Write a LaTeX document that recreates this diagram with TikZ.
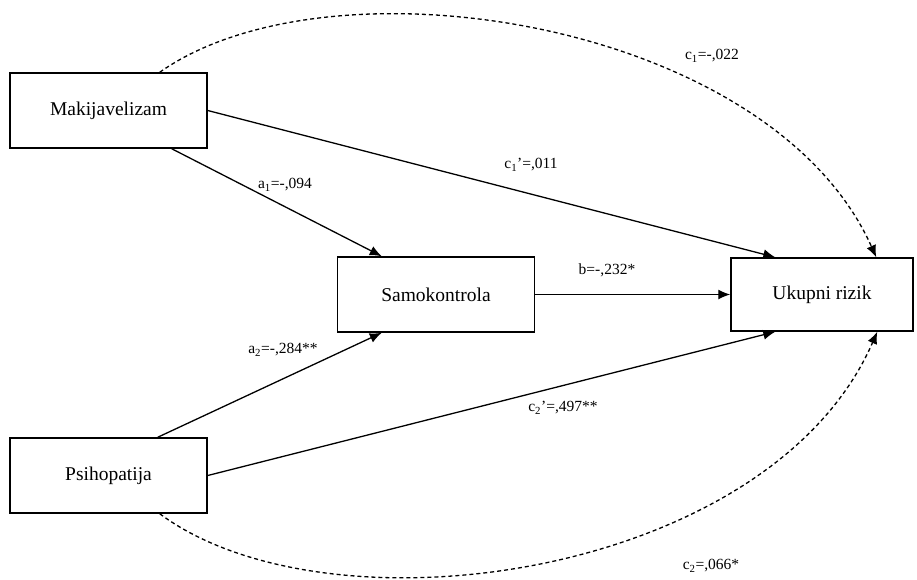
\documentclass[tikz,border=0pt]{standalone}
\usepackage{fontspec}
\setmainfont{Liberation Serif}
\usetikzlibrary{arrows.meta}
\begin{document}
\begin{tikzpicture}[x=1pt,y=-1pt,
  box/.style={draw,line width=1.5pt,minimum width=197pt,minimum height=75pt,inner sep=0pt,font=\fontsize{19.5}{22}\selectfont},
  conn/.style={line width=1.3pt,-{Latex[length=12pt,width=10pt]}},
  dconn/.style={line width=1.3pt,dash pattern=on 4pt off 3pt,-{Latex[length=12pt,width=10pt]}},
  lbl/.style={font=\fontsize{15.5}{17}\selectfont,inner sep=0pt}]
\useasboundingbox (0,0) rectangle (917,579);
\node[box] (mak) at (108.5,110.5) {Makijavelizam};
\node[box] (psi) at (108.5,475.5) {Psihopatija};
\node[box] (sam) at (436,294.5) {Samokontrola};
\node[box,minimum width=182pt,minimum height=73pt] (uku) at (822,294.5) {Ukupni rizik};
\coordinate (makt) at ([xshift=-48pt]mak.north east);
\coordinate (makb) at ([xshift=-36pt]mak.south east);
\coordinate (psit) at ([xshift=-50pt]psi.north east);
\coordinate (psib) at ([xshift=-48pt]psi.south east);
\coordinate (samt) at ([xshift=45pt]sam.north west);
\coordinate (samb) at ([xshift=45pt]sam.south west);
\coordinate (ukt) at ([xshift=45pt]uku.north west);
\coordinate (ukb) at ([xshift=45pt]uku.south west);
\coordinate (ukt2) at ([xshift=146pt]uku.north west);
\coordinate (ukb2) at ([xshift=147pt]uku.south west);
\draw[conn] (makb) -- (samt);
\draw[conn] (mak.east) -- (ukt);
\draw[conn] (sam.east) -- (uku.west);
\draw[conn] (psit) -- (samb);
\draw[conn] (psi.east) -- (ukb);
\draw[dconn] (makt) .. controls (330,-48) and (770,20) .. (ukt2);
\draw[dconn] (psib) .. controls (330,640) and (770,578) .. (ukb2);
\node[lbl] (l1) at (712,56) {c\textsubscript{1}=-,022};
\node[lbl] (l2) at (531,165) {c\textsubscript{1}'=,011};
\node[lbl] (l3) at (285,185) {a\textsubscript{1}=-,094};
\node[lbl] (l4) at (607,270) {b=-,232*};
\node[lbl] (l5) at (283,350) {a\textsubscript{2}=-,284**};
\node[lbl] (l6) at (563,408) {c\textsubscript{2}'=,497**};
\node[lbl] (l7) at (711,566) {c\textsubscript{2}=,066*};
\end{tikzpicture}
\end{document}
